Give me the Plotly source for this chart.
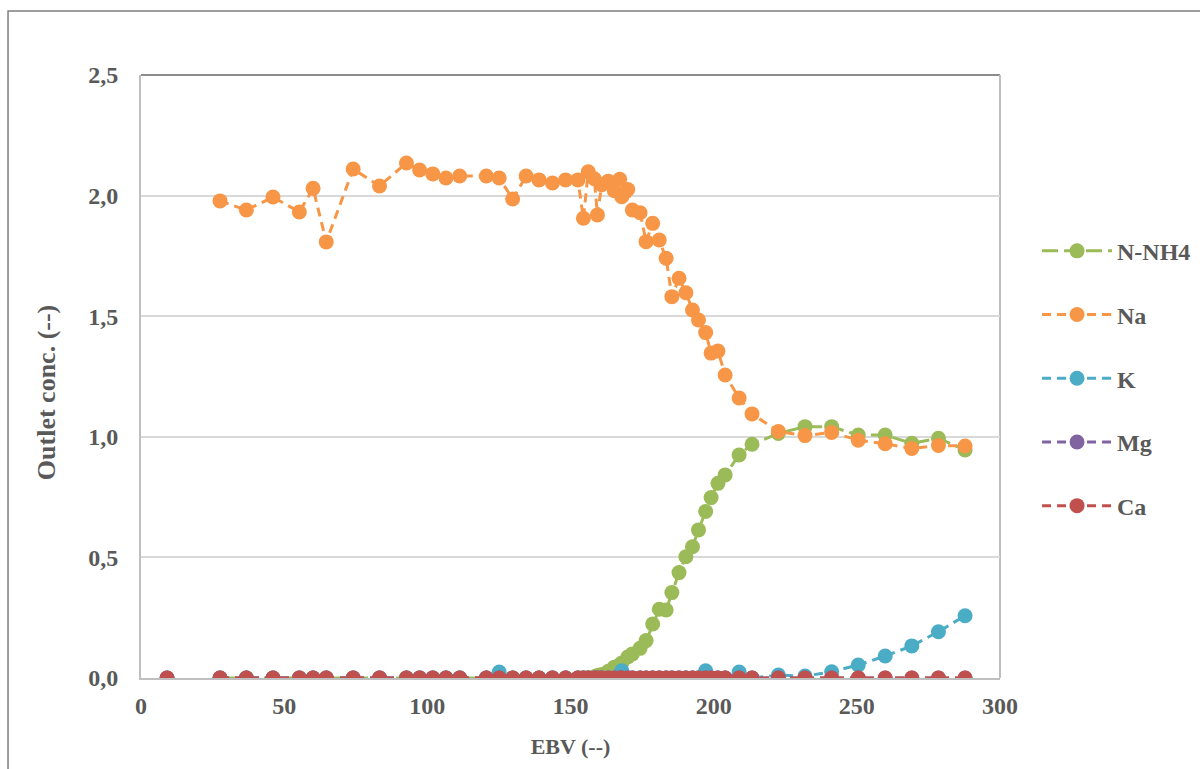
import plotly.graph_objects as go

# Bed volumes (EBV) at which the outlet was sampled
ebv = [27.6, 36.8, 46.1, 55.3, 60.1, 64.7, 74.1, 83.3, 92.7, 97.3, 101.9, 106.5,
       111.3, 120.6, 125.1, 129.8, 134.5, 139.0, 143.7, 148.3, 152.6, 154.5,
       156.2, 158.3, 159.4, 160.9, 163.2, 165.3, 167.2, 167.9, 170.0, 171.6,
       174.3, 176.4, 178.7, 181.0, 183.4, 185.4, 187.9, 190.3, 192.6, 194.7,
       197.2, 199.1, 201.5, 204.0, 208.9, 213.4, 222.6, 231.9, 241.2, 250.5,
       259.9, 269.2, 278.5, 287.8]

# Extra early samples for the divalent/K analyses (the second value was not measured)
ebv_early = [9.1, 18.0]

na = [1.978, 1.940, 1.994, 1.932, 2.030, 1.808, 2.110, 2.040, 2.135, 2.106, 2.090, 2.073,
      2.081, 2.081, 2.073, 1.986, 2.081, 2.065, 2.052, 2.065, 2.065, 1.906,
      2.099, 2.070, 1.920, 2.045, 2.060, 2.020, 2.068, 1.995, 2.025, 1.940,
      1.929, 1.809, 1.885, 1.816, 1.740, 1.581, 1.657, 1.597, 1.526, 1.484,
      1.432, 1.347, 1.356, 1.256, 1.161, 1.095, 1.022, 1.005, 1.018, 0.986,
      0.971, 0.952, 0.964, 0.962]

n_nh4 = [0.0, 0.0, 0.0, 0.0, 0.0, 0.0, 0.0, 0.0, 0.0, 0.0, 0.0, 0.0,
         0.0, 0.0, 0.0, 0.0, 0.0, 0.0, 0.0, 0.0, 0.0, 0.0,
         0.0, 0.005, 0.010, 0.015, 0.028, 0.045, 0.055, 0.062, 0.087, 0.100,
         0.123, 0.155, 0.224, 0.285, 0.282, 0.354, 0.437, 0.503, 0.544, 0.614,
         0.690, 0.748, 0.807, 0.842, 0.925, 0.969, 1.014, 1.042, 1.042, 1.007,
         1.007, 0.973, 0.994, 0.945]

k_early = [0.0, None]
k = [0.0, 0.0, 0.0, 0.0, 0.0, 0.0, 0.0, 0.0, 0.0, 0.0, 0.0, 0.0,
     0.0, 0.0, 0.025, 0.0, 0.0, 0.0, 0.0, 0.0, 0.0, 0.0,
     0.0, 0.0, 0.0, 0.0, 0.0, 0.0, 0.0, 0.030, 0.0, 0.0,
     0.0, 0.0, 0.0, 0.0, 0.0, 0.0, 0.0, 0.0, 0.0, 0.0,
     0.030, 0.0, 0.0, 0.0, 0.025, 0.0, 0.012, 0.008, 0.026, 0.054,
     0.091, 0.133, 0.192, 0.258]

mg_early = [0.0, None]
mg = [0.0] * len(ebv)

ca_early = [0.0, None]
ca = [0.0] * len(ebv)

series = [
    ("N-NH4", ebv, n_nh4, "#9BBB59", "16px,6px"),
    ("Na", ebv, na, "#F79646", "9px,6px"),
    ("K", ebv_early + ebv, k_early + k, "#4BACC6", "9px,6px"),
    ("Mg", ebv_early + ebv, mg_early + mg, "#8064A2", "9px,6px"),
    ("Ca", ebv_early + ebv, ca_early + ca, "#C0504D", "9px,6px"),
]

fig = go.Figure()
for name, xs, ys, color, dash in series:
    fig.add_trace(go.Scatter(
        x=xs, y=ys, name=name, mode="lines+markers",
        line=dict(color=color, width=3, dash=dash),
        marker=dict(color=color, size=15),
        legendgroup=name, connectgaps=False,
    ))

font_family = "Liberation Serif"
text_color = "#595959"
tick_font = dict(family=font_family, size=24, color=text_color, weight="bold")
title_font = dict(family=font_family, size=22, color=text_color, weight="bold")
ytitle_font = dict(family=font_family, size=26, color=text_color, weight="bold")

fig.update_layout(
    width=1200, height=769,
    margin=dict(l=141, r=200, t=75, b=91, autoexpand=False),
    paper_bgcolor="white", plot_bgcolor="white",
    separators=",.",
    font=dict(family=font_family, size=18, color=text_color),
    showlegend=True,
    legend=dict(
        xref="container", x=0.8642, y=0.745, xanchor="left", yanchor="top",
        font=dict(family=font_family, size=24, color=text_color, weight="bold"),
        tracegroupgap=29.5, itemwidth=70, bgcolor="rgba(0,0,0,0)",
    ),
    xaxis=dict(
        range=[0, 300], tickvals=[0, 50, 100, 150, 200, 250, 300],
        showgrid=False, zeroline=False,
        showline=True, linecolor="#bfbfbf", linewidth=2,
        ticks="", ticklabelstandoff=5, tickfont=tick_font,
        title=dict(text="EBV (--)", standoff=21, font=title_font),
    ),
    yaxis=dict(
        range=[0, 2.5], tickvals=[0, 0.5, 1.0, 1.5, 2.0, 2.5], tickformat=".1f",
        showgrid=True, gridcolor="#d9d9d9", gridwidth=2, zeroline=False,
        showline=True, linecolor="#bfbfbf", linewidth=2,
        ticks="", ticklabelstandoff=16, tickfont=tick_font,
    ),
    annotations=[
        # y-axis title, set slightly below the axis midpoint
        dict(text="Outlet conc. (--)", textangle=-90, showarrow=False,
             xref="paper", yref="paper", x=-0.1106, y=0.474,
             xanchor="center", yanchor="middle", font=ytitle_font),
    ],
    shapes=[
        # outer chart frame
        dict(type="rect", xref="paper", yref="paper",
             x0=-0.1548, x1=1.245, y0=-0.165, y1=1.106,
             line=dict(color="#7f7f7f", width=1.5), layer="below"),
        # plot area top and right edges
        dict(type="line", xref="paper", yref="paper", x0=0, x1=1, y0=1, y1=1,
             line=dict(color="#8c8c8c", width=2), layer="below"),
        dict(type="line", xref="paper", yref="paper", x0=1, x1=1, y0=0, y1=1,
             line=dict(color="#bfbfbf", width=2), layer="below"),
    ],
)

fig.write_html("out.html")
